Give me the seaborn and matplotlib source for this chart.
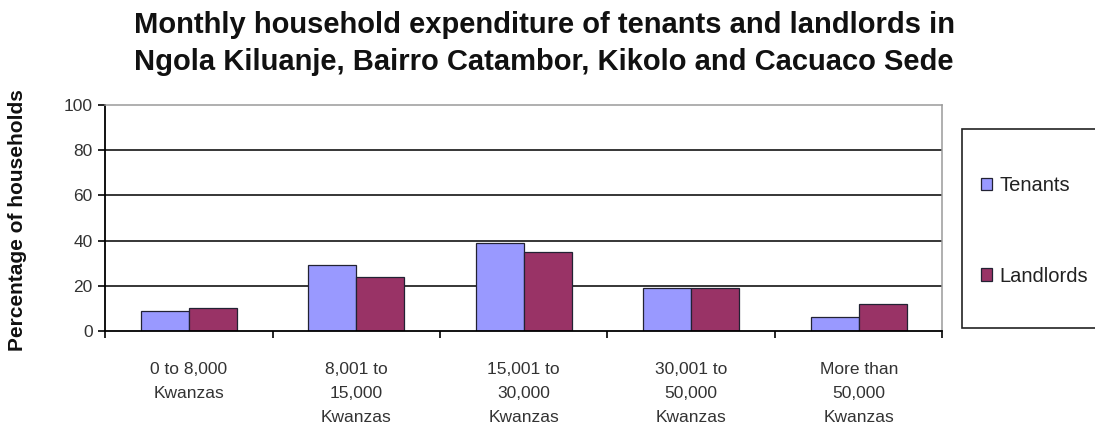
import matplotlib
matplotlib.use("Agg")
import matplotlib.pyplot as plt
from matplotlib.patches import Patch, Rectangle
import seaborn as sns
import pandas as pd

# Expenditure bands (x categories)
categories = [
    "0 to 8,000\nKwanzas",
    "8,001 to\n15,000\nKwanzas",
    "15,001 to\n30,000\nKwanzas",
    "30,001 to\n50,000\nKwanzas",
    "More than\n50,000\nKwanzas",
]
series_names = ["Tenants", "Landlords"]
tenants = [9, 29, 39, 19, 6]
landlords = [10, 24, 35, 19, 12]
y_ticks = [0, 20, 40, 60, 80, 100]

colors = ["#9999FF", "#993366"]

df = pd.DataFrame({
    "band": categories * 2,
    "group": [series_names[0]] * len(categories) + [series_names[1]] * len(categories),
    "pct": tenants + landlords,
})

sns.set_theme(style="white")
plt.rcParams["font.family"] = ["Liberation Sans", "DejaVu Sans"]

fig = plt.figure(figsize=(10.95, 4.42), dpi=100)
ax = fig.add_axes([0.0959, 0.2511, 0.7648, 0.5113])

sns.barplot(
    data=df, x="band", y="pct", hue="group", order=categories,
    hue_order=series_names, palette=colors, width=0.571, dodge=True,
    edgecolor="#222233", linewidth=0.9, saturation=1, ax=ax, legend=False,
)

ax.set_ylim(0, 100)
ax.set_xlim(-0.5, len(categories) - 0.5)
ax.set_yticks(y_ticks)
ax.set_yticklabels([str(v) for v in y_ticks], fontsize=12.5, color="#333333")
ax.set_xticks(range(len(categories)))
ax.set_xticklabels(categories, fontsize=12.5, color="#333333", linespacing=1.75)
ax.set_xticks([i + 0.5 for i in range(-1, len(categories))], minor=True)
ax.tick_params(axis="x", which="major", length=0, pad=22)
ax.tick_params(axis="x", which="minor", length=5, width=1.2, color="black", direction="out", bottom=True)
ax.tick_params(axis="y", which="major", length=5, width=1.2, color="black", direction="out", left=True, pad=4)

# Horizontal grid lines
for v in y_ticks[1:-1]:
    ax.axhline(v, color="black", lw=1.1, zorder=0.5)
ax.set_axisbelow(True)

for side in ["left", "bottom"]:
    ax.spines[side].set_color("black")
    ax.spines[side].set_linewidth(1.3)
for side in ["top", "right"]:
    ax.spines[side].set_color("#9a9a9a")
    ax.spines[side].set_linewidth(1.1)

ax.set_xlabel("")
ax.set_ylabel("Percentage of households", fontsize=15, fontweight="bold", color="#111111")
ax.yaxis.set_label_coords(-0.093, 0.49)

fig.suptitle(
    "Monthly household expenditure of tenants and landlords in\n"
    "Ngola Kiluanje, Bairro Catambor, Kikolo and Cacuaco Sede",
    fontsize=21, fontweight="bold", x=0.497, y=0.974, linespacing=1.4, color="#111111",
)

# Legend box
fig.patches.append(Rectangle((962 / 1095, 1 - 328 / 442), 140 / 1095, 199 / 442,
                             transform=fig.transFigure, facecolor="white",
                             edgecolor="#222222", lw=1.2, zorder=1))
handles = [Patch(facecolor=c, edgecolor="#222233", lw=0.9) for c in colors]
fig.legend(handles, series_names, loc="upper left",
           bbox_to_anchor=(971 / 1095, 1 - 166 / 442), frameon=False,
           fontsize=14.5, handlelength=0.55, handleheight=0.55, handletextpad=0.35,
           labelspacing=3.55, borderpad=0, labelcolor="#222222")

fig.savefig("out.png", dpi=100, facecolor="white")
